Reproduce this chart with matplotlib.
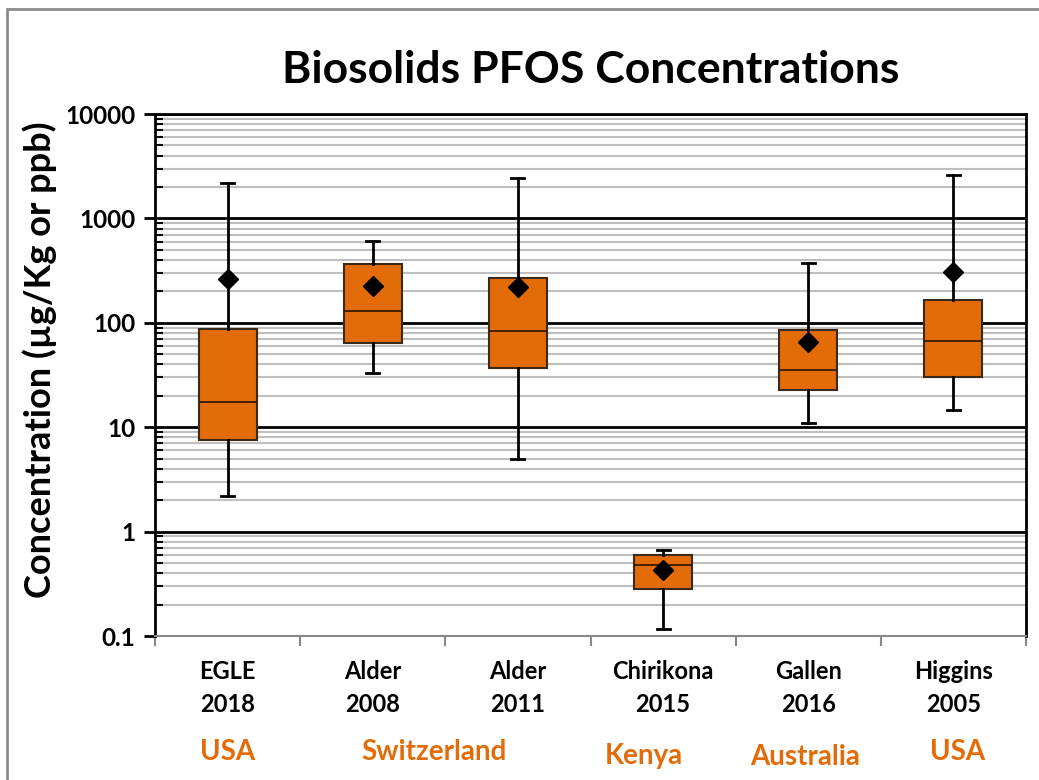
import numpy as np
import matplotlib as mpl
mpl.use("Agg")
import matplotlib.pyplot as plt
from matplotlib import patches

studies = ['EGLE\n2018', 'Alder\n2008', 'Alder\n2011', 'Chirikona\n2015', 'Gallen\n2016', 'Higgins\n2005']
countries = ['USA', 'Switzerland', 'Kenya', 'Australia', 'USA']
country_pos = [1, 2.42, 3.87, 4.98, 6.03]   # Switzerland spans both Alder studies
country_y = [-0.222, -0.222, -0.229, -0.231, -0.222]

whis_lo = [2.2, 33, 5.0, 0.117, 11, 14.6]
q1 = [7.5, 64, 37, 0.28, 22.7, 30.2]
median = [17.5, 130, 83, 0.48, 35.3, 67]
q3 = [87, 366, 269, 0.60, 86, 165]
whis_hi = [2200, 605, 2440, 0.667, 375, 2600]
means = [265, 224, 220, 0.43, 65.5, 307]

orange = '#E36C09'
plt.rcParams['font.family'] = ['Lato', 'DejaVu Sans']

fig = plt.figure(figsize=(10.39, 7.8), dpi=100)
ax = fig.add_axes([155/1039, 1-636/780, (1026-155)/1039, (636-114)/780])

stats = []
for i in range(len(studies)):
    stats.append(dict(whislo=whis_lo[i], q1=q1[i], med=median[i], q3=q3[i],
                      whishi=whis_hi[i], mean=means[i], fliers=[]))

ax.bxp(stats, positions=np.arange(1, len(studies)+1), widths=0.4,
       patch_artist=True, showmeans=True, showfliers=False,
       boxprops=dict(facecolor=orange, edgecolor='#3a2a1a', lw=1.5),
       medianprops=dict(color='#3a1a00', lw=1.3),
       whiskerprops=dict(color='k', lw=2),
       capprops=dict(color='k', lw=2),
       capwidths=0.09,
       meanprops=dict(marker='D', markerfacecolor='k', markeredgecolor='k', markersize=10),
       zorder=3)

ax.set_yscale('log')
ax.set_ylim(0.1, 10000)
ax.set_xlim(0.5, len(studies)+0.5)

# gridlines
ax.yaxis.grid(True, which='major', color='k', lw=2, zorder=1)
ax.yaxis.grid(True, which='minor', color='#BFBFBF', lw=1.5, zorder=0)
ax.set_axisbelow(True)

ax.set_yticks([0.1, 1, 10, 100, 1000, 10000])
ax.set_yticklabels(['0.1', '1', '10', '100', '1000', '10000'], fontsize=17.5, fontweight='bold')
ax.yaxis.set_minor_locator(mpl.ticker.LogLocator(base=10, subs=np.arange(2, 10)))
ax.yaxis.set_minor_formatter(mpl.ticker.NullFormatter())
ax.tick_params(axis='y', which='major', direction='out', length=8, width=2, pad=6)
ax.tick_params(axis='y', which='minor', direction='in', length=6, width=1.5)

ax.set_xticks(np.arange(0.5, len(studies)+1))
ax.set_xticklabels([])
ax.tick_params(axis='x', which='major', direction='out', length=7, width=1.5, color='#888888')
for i, s in enumerate(studies):
    ax.text(i+1, -0.046, s, transform=ax.get_xaxis_transform(), ha='center', va='top',
            fontsize=17, fontweight='bold', linespacing=1.55)

for c, p, yy in zip(countries, country_pos, country_y):
    ax.text(p, yy, c, transform=ax.get_xaxis_transform(), ha='center', va='center',
            fontsize=20, fontweight='bold', color=orange)

ax.spines['left'].set_linewidth(2)
ax.spines['right'].set_linewidth(2)
ax.spines['top'].set_linewidth(2)
ax.spines['bottom'].set_color('#888888')
ax.spines['bottom'].set_linewidth(1.5)

ax.set_title('Biosolids PFOS Concentrations', fontsize=32, fontweight='bold', pad=22)
fig.text(40/1039, 1-360/780, 'Concentration (µg/Kg or ppb)', rotation=90,
         ha='center', va='center', fontsize=26, fontweight='bold')

fig.patches.append(patches.Rectangle((7/1039, -0.1), 1.2, 1-9/780+0.1, transform=fig.transFigure,
                                     fill=False, edgecolor='#8c8c8c', lw=2))

fig.savefig('out.png', dpi=100)
